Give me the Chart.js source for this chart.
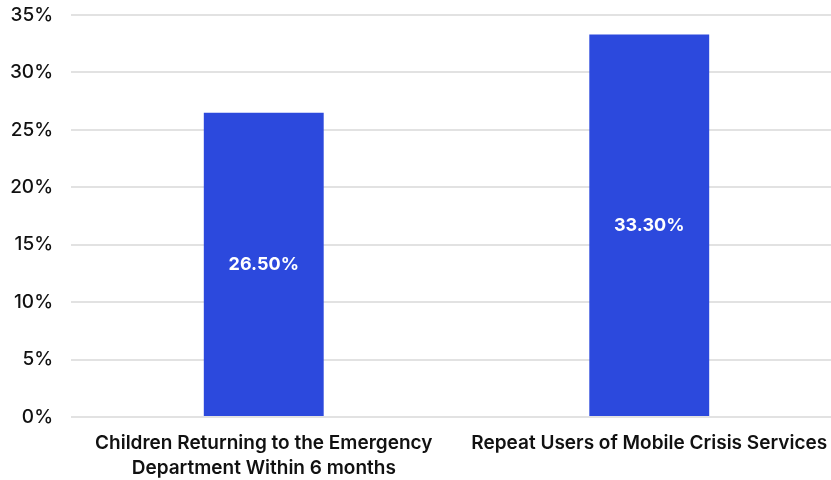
<!DOCTYPE html>
<html>
<head>
<meta charset="utf-8">
<script src="https://cdn.jsdelivr.net/npm/chart.js@4/dist/chart.umd.min.js"></script>
<style>
  html, body { margin: 0; padding: 0; background: #fff; overflow: hidden; }
  #wrap { position: absolute; left: 0; top: 0; width: 842px; height: 480px; }
</style>
</head>
<body>
<div id="wrap"><canvas id="barChart"></canvas></div>
<script>
// chart data
var categories = [
    ["Children Returning to the Emergency", "Department Within 6 months"],
    "Repeat Users of Mobile Crisis Services"
];
var values = [26.5, 33.3];
var yTicks = [0, 5, 10, 15, 20, 25, 30, 35];

var barColor = "#2c49dd";
var fontFamily = "Inter, 'Noto Sans', sans-serif";

// write each value in the middle of its bar
var barValueLabels = {
    id: "barValueLabels",
    afterDatasetsDraw: function (chart) {
        var ctx = chart.ctx;
        var meta = chart.getDatasetMeta(0);
        ctx.save();
        ctx.fillStyle = "#ffffff";
        ctx.font = "700 18px " + fontFamily;
        ctx.textAlign = "center";
        ctx.textBaseline = "middle";
        meta.data.forEach(function (bar, i) {
            var mid = (bar.y + bar.base) / 2;
            ctx.fillText(values[i].toFixed(2) + "%", bar.x, mid);
        });
        ctx.restore();
    }
};

document.addEventListener("DOMContentLoaded", function () {
    var ctx = document.getElementById("barChart").getContext("2d");
    new Chart(ctx, {
        type: "bar",
        data: {
            labels: categories,
            datasets: [
                {
                    data: values,
                    backgroundColor: barColor,
                    barPercentage: 0.311,
                    categoryPercentage: 1.0
                }
            ]
        },
        options: {
            responsive: true,
            maintainAspectRatio: false,
            animation: false,
            layout: { padding: { top: 15, left: 0, right: 0, bottom: 0 } },
            plugins: {
                legend: { display: false },
                tooltip: { enabled: false }
            },
            scales: {
                x: {
                    grid: { display: false, drawTicks: false },
                    border: { display: false },
                    afterFit: function (axis) {
                        axis.height = 63;
                        axis.paddingLeft = 0;
                        axis.paddingRight = 0;
                    },
                    ticks: {
                        color: "#111",
                        font: { family: fontFamily, size: 19, weight: "600", lineHeight: 1.3 },
                        maxRotation: 0,
                        padding: 14
                    }
                },
                y: {
                    min: 0,
                    max: 35,
                    afterBuildTicks: function (axis) {
                        axis.ticks = yTicks.map(function (v) { return { value: v }; });
                    },
                    afterFit: function (axis) {
                        // let the top label overhang the plot area
                        axis.width = 71;
                        axis.paddingTop = 0;
                        axis.paddingBottom = 0;
                    },
                    grid: { color: "#e2e2e2", lineWidth: 2, drawTicks: false },
                    border: { display: false },
                    ticks: {
                        color: "#111",
                        font: { family: fontFamily, size: 19, weight: "500" },
                        padding: 18,
                        callback: function (v) { return v + "%"; }
                    }
                }
            }
        },
        plugins: [barValueLabels]
    });
});
</script>
</body>
</html>
